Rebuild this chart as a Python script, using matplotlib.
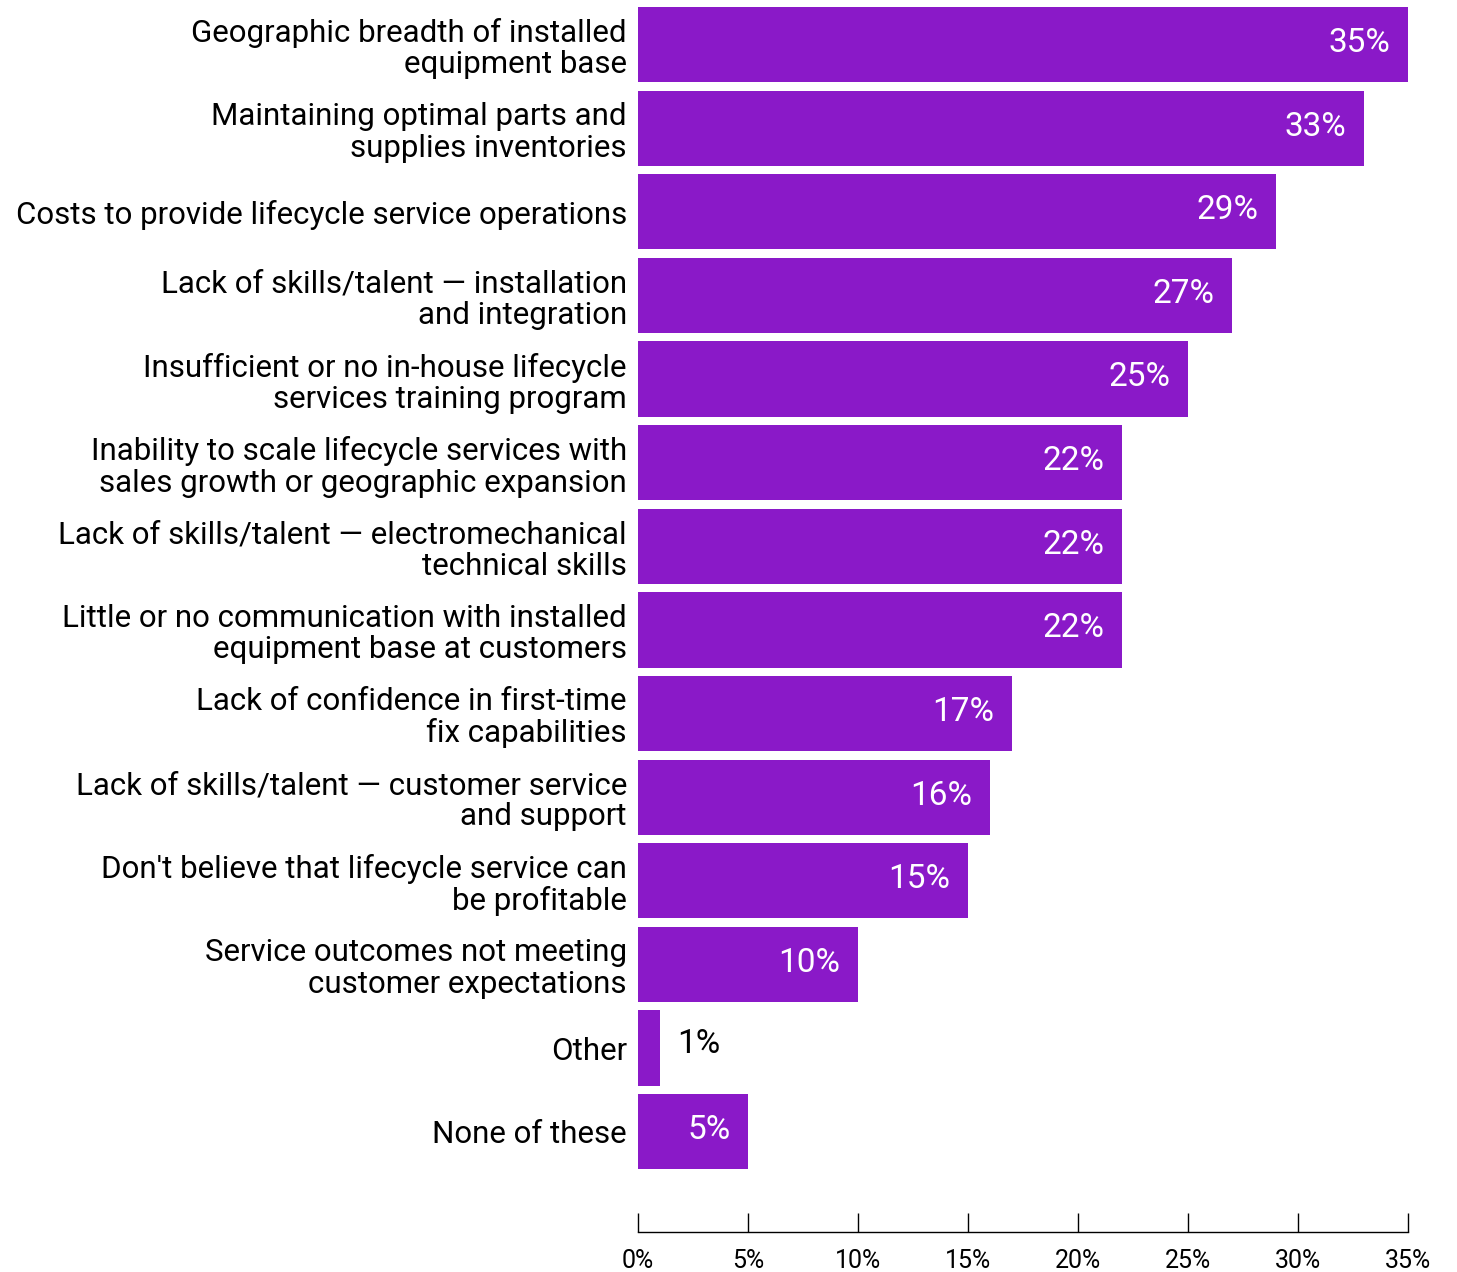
import matplotlib.pyplot as plt
import numpy as np

# Data
labels = [
    "Geographic breadth of installed\nequipment base",
    "Maintaining optimal parts and\nsupplies inventories",
    "Costs to provide lifecycle service operations",
    "Lack of skills/talent \u2014 installation\nand integration",
    "Insufficient or no in-house lifecycle\nservices training program",
    "Inability to scale lifecycle services with\nsales growth or geographic expansion",
    "Lack of skills/talent \u2014 electromechanical\ntechnical skills",
    "Little or no communication with installed\nequipment base at customers",
    "Lack of confidence in first-time\nfix capabilities",
    "Lack of skills/talent \u2014 customer service\nand support",
    "Don't believe that lifecycle service can\nbe profitable",
    "Service outcomes not meeting\ncustomer expectations",
    "Other",
    "None of these",
]
values = [35, 33, 29, 27, 25, 22, 22, 22, 17, 16, 15, 10, 1, 5]
xticks = [0, 5, 10, 15, 20, 25, 30, 35]

bar_color = "#8A19C8"
plt.rcParams['font.family'] = ['Roboto', 'DejaVu Sans']

fig = plt.figure(figsize=(14.57, 12.72), dpi=100)
ax = fig.add_axes([638/1457, 40/1272, 770/1457, 1225/1272])

y = np.arange(len(values))
ax.barh(y, values, height=0.9, color=bar_color)
ax.set_xlim(0, 35)
ax.set_ylim(14.2, -0.45)

for i, v in enumerate(values):
    if v >= 3:
        ax.text(v - 0.8, i - 0.02, f"{v}%", ha='right', va='center', color='white',
                fontsize=24)
    else:
        ax.text(v + 0.8, i - 0.05, f"{v}%", ha='left', va='center', color='black',
                fontsize=24)

ax.set_yticks(y)
ax.set_yticklabels(labels, fontsize=22.5, linespacing=1.1)
ax.tick_params(axis='y', length=0, pad=8)

ax.set_xticks(xticks)
ax.set_xticklabels([f"{t}%" for t in xticks], fontsize=18)
ax.tick_params(axis='x', direction='in', length=13.5, width=1, pad=12)

for s in ['top', 'right', 'left']:
    ax.spines[s].set_visible(False)
ax.spines['bottom'].set_linewidth(1)

fig.savefig("out.png", dpi=100)
